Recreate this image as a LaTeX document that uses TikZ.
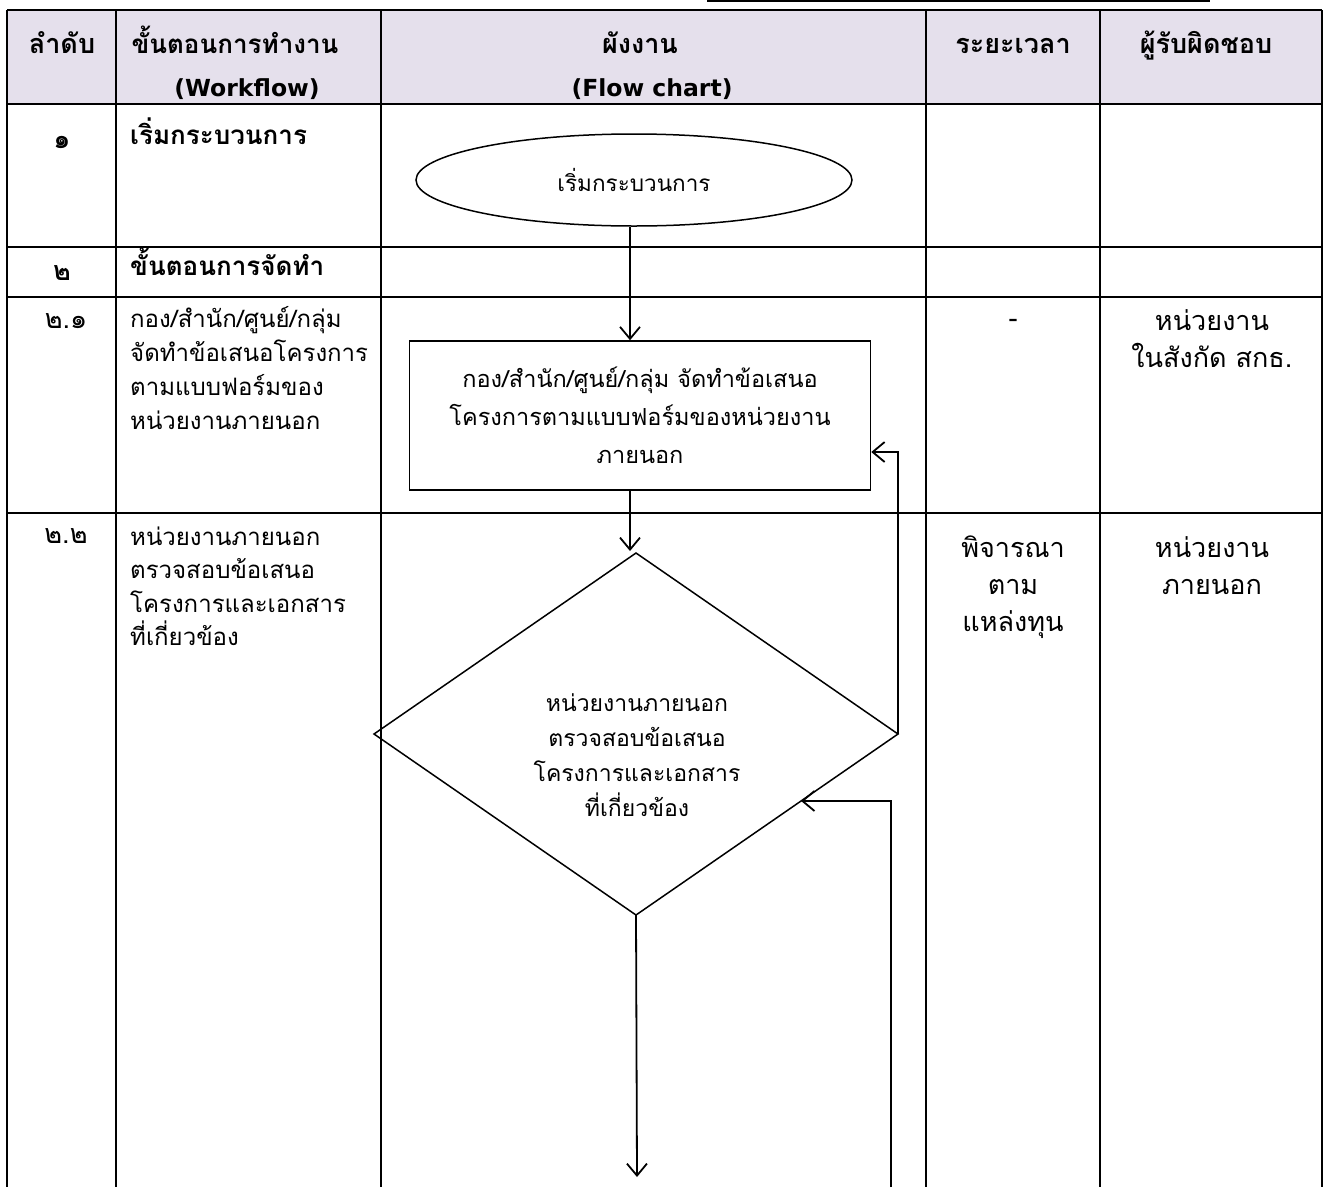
\documentclass[tikz,border=0pt]{standalone}
\usepackage{fontspec}
\setmainfont[Script=Thai]{Loma}
\newfontfamily\latinbold{DejaVu Sans}
\usetikzlibrary{arrows.meta,shapes.geometric,calc}
\definecolor{headfill}{HTML}{E5E0EC}

\begin{document}
\begin{tikzpicture}[x=1pt,y=-1pt,
  rule/.style={line width=2.6pt},
  shapeline/.style={line width=1.5pt},
  flow/.style={line width=1.8pt,-{Straight Barb[length=12pt,width=20pt,line width=1.8pt]}},
  body/.style={font=\fontsize{24}{34}\selectfont, inner sep=0pt},
  side/.style={font=\fontsize{27}{37}\selectfont, inner sep=0pt, anchor=base},
  head/.style={font=\bfseries\fontsize{27}{38}\selectfont, inner sep=0pt, anchor=base},
  label/.style={font=\bfseries\fontsize{26}{38}\selectfont, inner sep=0pt, anchor=base west},
  engl/.style={font=\latinbold\bfseries\fontsize{23.5}{30}\selectfont, inner sep=0pt, anchor=base},
  lefttxt/.style={body, anchor=base west},
]
\useasboundingbox (0,0) rectangle (1325,1187);

% header band
\fill[headfill] (7,10) rectangle (1322,104);

% underline of the line of text above the table
\draw[line width=1.5pt] (707,1) -- (1210,1);

% table rules
\foreach \y in {10,104,247,297,513}
  \draw[rule] (7,\y) -- (1322,\y);
\foreach \x in {7,116,381,926,1100,1322}
  \draw[rule] (\x,10) -- (\x,1187);

% header texts
\node[head] (h1) at (62,53) {ลำดับ};
\node[head, font=\bfseries\fontsize{26}{38}\selectfont] (h2a) at (235,53) {ขั้นตอนการทำงาน};
\node[engl] (h2b) at (247,96) {(Workflow)};
\node[head] (h3a) at (640,53) {ผังงาน};
\node[engl] (h3b) at (652,96) {(Flow chart)};
\node[head] (h4) at (1013,53) {ระยะเวลา};
\node[head] (h5) at (1206,53) {ผู้รับผิดชอบ};

% row 1
\node[head] (n1) at (62,148) {๑};
\node[label] (t1) at (130,144) {เริ่มกระบวนการ};

% row 2
\node[head] (n2) at (62,280) {๒};
\node[label] (t2) at (130,275) {ขั้นตอนการจัดทำ};

% row 2.1
\node[side] (n21) at (66,328) {๒.๑};
\node[lefttxt] (t21a) at (130,327) {กอง/สำนัก/ศูนย์/กลุ่ม};
\node[lefttxt] (t21b) at (130,361) {จัดทำข้อเสนอโครงการ};
\node[lefttxt] (t21c) at (130,395) {ตามแบบฟอร์มของ};
\node[lefttxt] (t21d) at (130,429) {หน่วยงานภายนอก};
\node[side] (r21) at (1013,327) {-};
\node[side] (p21a) at (1212,330) {หน่วยงาน};
\node[side] (p21b) at (1212,367) {ในสังกัด สกธ.};

% row 2.2
\node[side] (n22) at (66,543) {๒.๒};
\node[lefttxt] (t22a) at (130,545) {หน่วยงานภายนอก};
\node[lefttxt] (t22b) at (130,578) {ตรวจสอบข้อเสนอ};
\node[lefttxt] (t22c) at (130,612) {โครงการและเอกสาร};
\node[lefttxt] (t22d) at (130,645) {ที่เกี่ยวข้อง};
\node[side] (r22a) at (1013,557) {พิจารณา};
\node[side] (r22b) at (1013,594) {ตาม};
\node[side] (r22c) at (1013,631) {แหล่งทุน};
\node[side] (p22a) at (1212,557) {หน่วยงาน};
\node[side] (p22b) at (1212,594) {ภายนอก};

% flow chart
\node[ellipse, draw, shapeline, minimum width=436pt, minimum height=92pt,
      inner sep=0pt, font=\fontsize{22.5}{30}\selectfont] (start) at (634,180) {เริ่มกระบวนการ};

\node[draw, shapeline, minimum width=461pt, minimum height=149pt,
      inner sep=0pt, font=\fontsize{23.5}{38}\selectfont, align=center] (prep) at (640,415.5)
  {กอง/สำนัก/ศูนย์/กลุ่ม จัดทำข้อเสนอ\\โครงการตามแบบฟอร์มของหน่วยงาน\\ภายนอก};

\coordinate (dtop) at (636,553);
\coordinate (dright) at (898,734);
\coordinate (dbot) at (636,915);
\coordinate (dleft) at (374,734);
\draw[shapeline, line join=miter] (dtop) -- (dright) -- (dbot) -- (dleft) -- cycle;
\node[inner sep=0pt, font=\fontsize{23}{35}\selectfont, align=center] (check) at (637,755)
  {หน่วยงานภายนอก\\ตรวจสอบข้อเสนอ\\โครงการและเอกสาร\\ที่เกี่ยวข้อง};

% connectors
\draw[flow] (start.south -| 630,0) -- (630,0 |- prep.north);
\draw[flow] (prep.south -| 630,0) -- (630,551);
\coordinate (fb) at (898,452);
\draw[flow] (dright) -- (fb) -- (prep.east |- fb);
\coordinate (retin) at ($(dright)!0.37!(dbot)$);
\coordinate (retbot) at (891,1187);
\draw[flow, line width=1.6pt] (retbot) -- (retbot |- retin) -- (retin);
\coordinate (out) at (637,1177);
\draw[flow] (dbot) -- (out);
\end{tikzpicture}
\end{document}
